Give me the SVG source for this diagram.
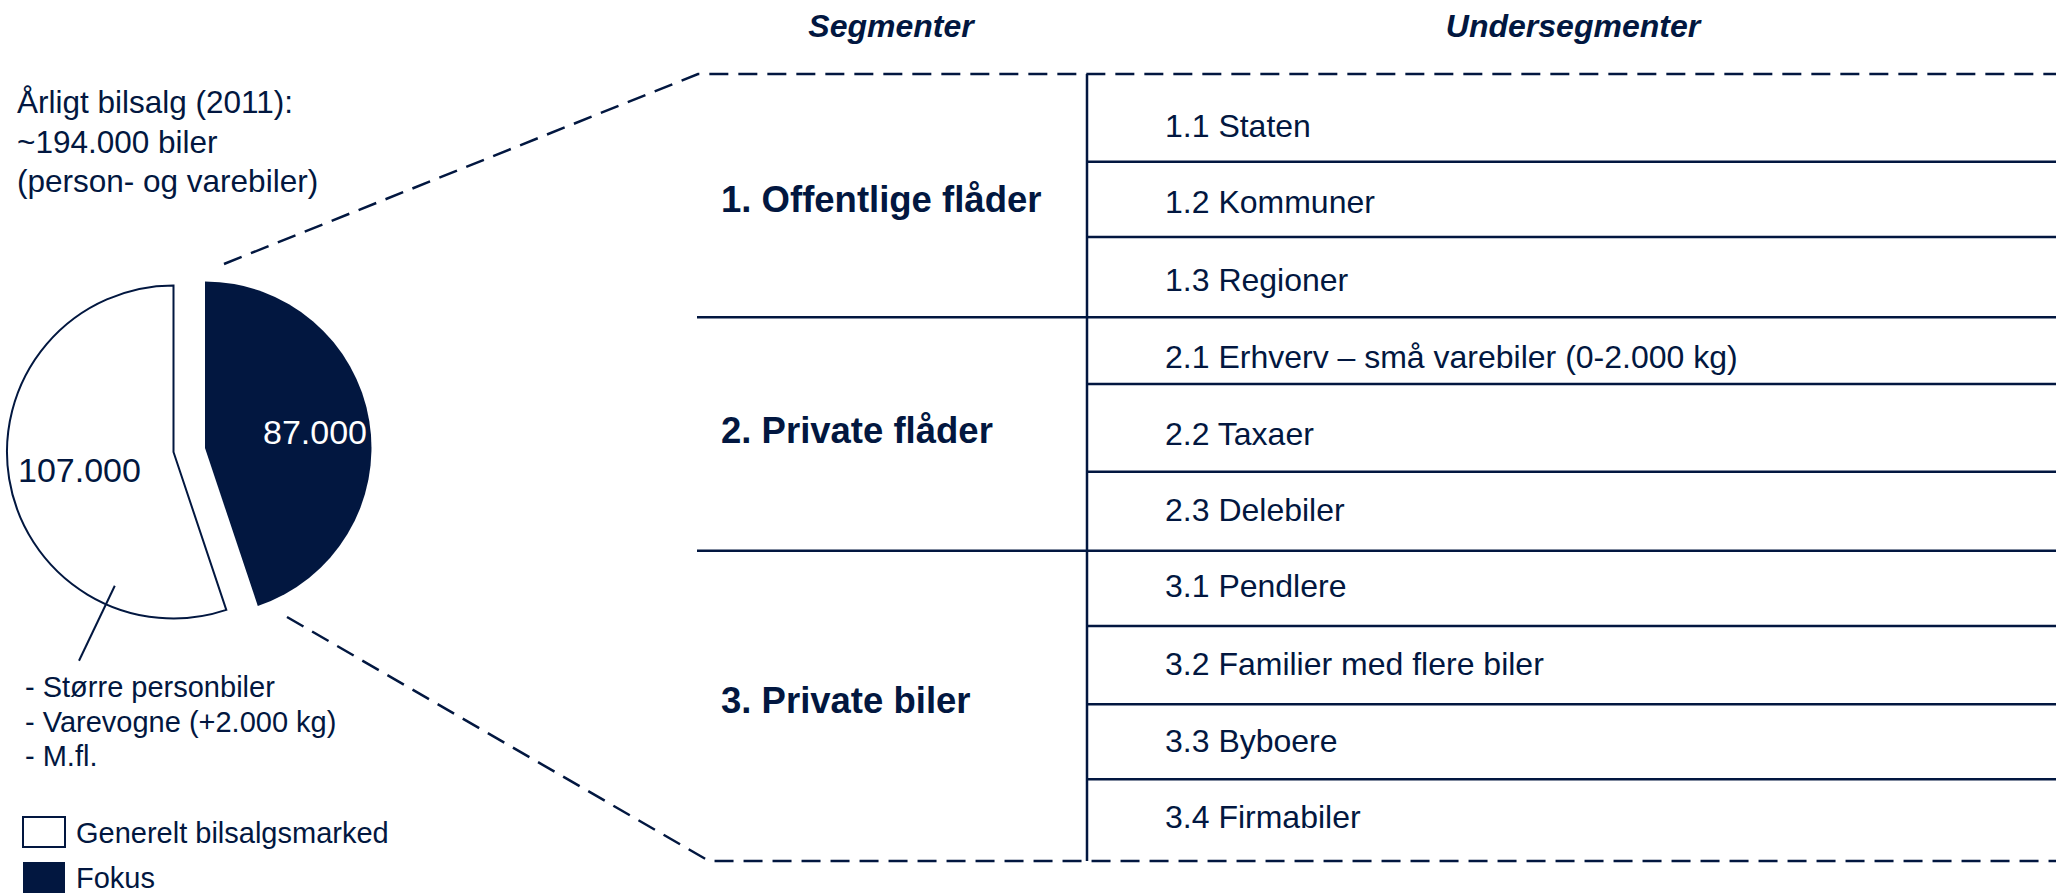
<svg xmlns="http://www.w3.org/2000/svg" width="2056" height="893" viewBox="0 0 2056 893">
<style>
  text { font-family: "Liberation Sans", Arial, sans-serif; fill: #021740; }
  .hdr { font-size: 32px; font-weight: bold; font-style: italic; text-anchor: middle; }
  .seg { font-size: 36.5px; font-weight: bold; }
  .sub { font-size: 32px; }
  .info { font-size: 31.5px; }
  .num { font-size: 34px; }
  .small { font-size: 29px; }
  .solid { stroke: #021740; stroke-width: 2.5; fill: none; }
  .dash { stroke: #021740; stroke-width: 2.5; fill: none; stroke-dasharray: 19 10; }
</style>

<g id="headers">
  <text class="hdr" x="891" y="37">Segmenter</text>
  <text class="hdr" x="1573" y="37">Undersegmenter</text>
</g>

<g id="info-text">
  <text class="info" x="17" y="113">Årligt bilsalg (2011):</text>
  <text class="info" x="17" y="153">~194.000 biler</text>
  <text class="info" x="17" y="192">(person- og varebiler)</text>
</g>

<g id="pie">
  <path id="slice-general" d="M173.5 452 L226.3 609.9 A166.5 166.5 0 1 1 173.5 285.5 Z" fill="#ffffff" stroke="#021740" stroke-width="2"/>
  <path id="slice-focus" d="M205 448 L205 281.5 A166.5 166.5 0 0 1 257.8 605.9 Z" fill="#021740"/>
  <text class="num" x="263" y="444" style="fill:#ffffff">87.000</text>
  <text class="num" x="18" y="482">107.000</text>
</g>

<g id="annotation">
  <line x1="114.8" y1="585.7" x2="79" y2="660.7" stroke="#021740" stroke-width="2"/>
  <text class="small" x="25" y="697">- Større personbiler</text>
  <text class="small" x="25" y="732">- Varevogne (+2.000 kg)</text>
  <text class="small" x="25" y="766">- M.fl.</text>
</g>

<g id="legend">
  <rect x="23" y="817" width="42" height="30" fill="#ffffff" stroke="#021740" stroke-width="2"/>
  <text class="small" x="76" y="843">Generelt bilsalgsmarked</text>
  <rect x="23" y="862" width="42" height="32" fill="#021740"/>
  <text class="small" x="76" y="888">Fokus</text>
</g>

<g id="connectors">
  <polyline class="dash" points="224,264 698,74 2056,74"/>
  <polyline class="dash" points="287,617 709,861 2056,861"/>
  <line class="solid" x1="1087" y1="74" x2="1087" y2="861"/>
  <line class="solid" x1="697" y1="317.3" x2="2056" y2="317.3"/>
  <line class="solid" x1="697" y1="550.7" x2="2056" y2="550.7"/>
  <line class="solid" x1="1087" y1="161.7" x2="2056" y2="161.7"/>
  <line class="solid" x1="1087" y1="237" x2="2056" y2="237"/>
  <line class="solid" x1="1087" y1="384" x2="2056" y2="384"/>
  <line class="solid" x1="1087" y1="471.7" x2="2056" y2="471.7"/>
  <line class="solid" x1="1087" y1="626" x2="2056" y2="626"/>
  <line class="solid" x1="1087" y1="704.3" x2="2056" y2="704.3"/>
  <line class="solid" x1="1087" y1="779.3" x2="2056" y2="779.3"/>
</g>

<g id="seg-1">
  <text class="seg" x="721" y="212">1. Offentlige flåder</text>
</g>
<g id="seg-2">
  <text class="seg" x="721" y="443">2. Private flåder</text>
</g>
<g id="seg-3">
  <text class="seg" x="721" y="713">3. Private biler</text>
</g>

<g id="sub-1-1"><text class="sub" x="1165" y="137">1.1 Staten</text></g>
<g id="sub-1-2"><text class="sub" x="1165" y="213">1.2 Kommuner</text></g>
<g id="sub-1-3"><text class="sub" x="1165" y="291">1.3 Regioner</text></g>
<g id="sub-2-1"><text class="sub" x="1165" y="368">2.1 Erhverv – små varebiler (0-2.000 kg)</text></g>
<g id="sub-2-2"><text class="sub" x="1165" y="445">2.2 Taxaer</text></g>
<g id="sub-2-3"><text class="sub" x="1165" y="521">2.3 Delebiler</text></g>
<g id="sub-3-1"><text class="sub" x="1165" y="597">3.1 Pendlere</text></g>
<g id="sub-3-2"><text class="sub" x="1165" y="675">3.2 Familier med flere biler</text></g>
<g id="sub-3-3"><text class="sub" x="1165" y="752">3.3 Byboere</text></g>
<g id="sub-3-4"><text class="sub" x="1165" y="828">3.4 Firmabiler</text></g>
</svg>
